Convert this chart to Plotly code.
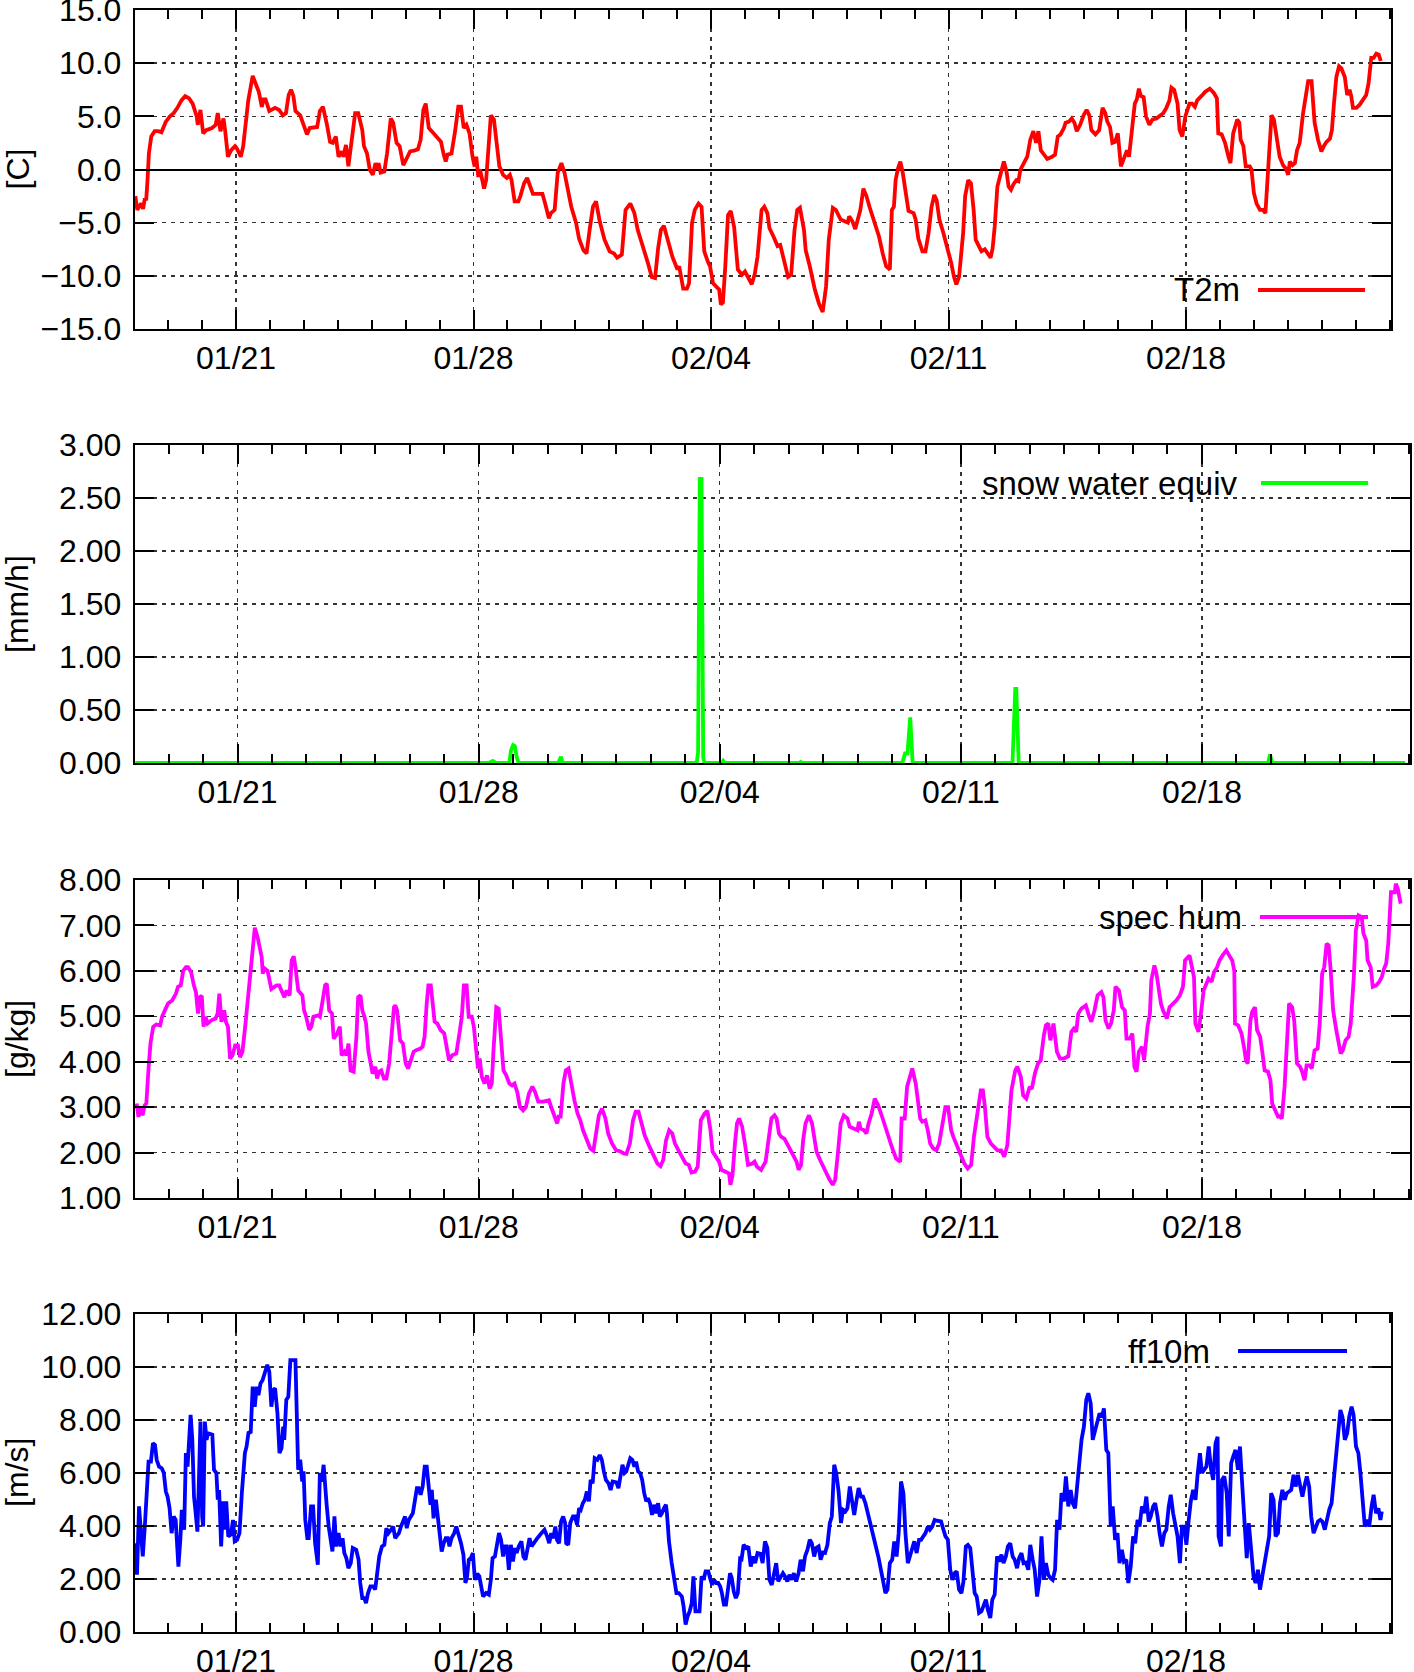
import pandas as pd
import plotly.graph_objects as go

# ---------------- data (days since 01/18 00:00, value) ----------------
T0 = pd.Timestamp("2024-01-18 00:00")

t2m_pts = [
(0.03,-2.5),(0.09,-3.8),(0.20,-3.2),(0.26,-3.7),(0.31,-2.7),(0.35,-2.9),(0.39,-1.0),(0.43,1.5),(0.50,3.1),(0.60,3.6),
(0.71,3.6),(0.80,3.5),(0.93,4.5),(1.05,5.0),(1.16,5.3),(1.27,5.8),(1.39,6.5),(1.50,6.9),(1.61,6.7),(1.72,6.2),
(1.84,5.0),(1.87,4.2),(1.95,5.6),(2.03,3.4),(2.12,3.7),(2.29,3.9),(2.40,4.2),(2.46,5.3),(2.54,3.6),(2.63,4.8),
(2.68,3.6),(2.76,1.2),(2.85,1.8),(2.97,2.2),(3.02,2.0),(3.14,1.2),(3.21,2.2),(3.36,6.5),(3.49,8.8),(3.59,8.0),
(3.67,7.3),(3.76,5.9),(3.81,6.6),(3.87,6.6),(3.98,5.5),(4.15,5.8),(4.27,5.6),(4.38,5.1),(4.47,5.3),(4.55,7.0),
(4.62,7.5),(4.69,6.9),(4.75,5.5),(4.89,5.1),(5.00,4.0),(5.09,3.3),(5.17,3.9),(5.39,4.0),(5.47,5.5),(5.56,5.9),
(5.68,4.2),(5.77,2.6),(5.85,2.5),(5.94,3.1),(6.02,1.2),(6.11,1.7),(6.16,1.2),(6.24,2.3),(6.31,0.3),(6.41,2.8),
(6.51,5.3),(6.60,5.3),(6.72,3.7),(6.77,2.2),(6.86,1.5),(6.94,0.0),(7.03,-0.5),(7.11,0.6),(7.17,0.0),(7.20,0.6),
(7.26,-0.3),(7.37,-0.2),(7.45,1.5),(7.56,4.8),(7.63,4.4),(7.73,2.5),(7.82,2.2),(7.93,0.4),(8.05,1.2),(8.13,1.7),
(8.27,1.8),(8.36,1.9),(8.44,2.8),(8.52,5.6),(8.59,6.2),(8.68,3.9),(8.82,3.4),(8.95,2.9),(9.04,2.6),(9.12,1.4),
(9.18,0.75),(9.23,1.4),(9.35,1.5),(9.46,3.7),(9.55,5.9),(9.63,5.9),(9.71,3.9),(9.79,4.2),(9.88,3.4),(9.97,1.2),
(10.03,0.3),(10.08,1.2),(10.14,-0.7),(10.19,0.0),(10.25,-0.8),(10.31,-1.8),(10.37,-1.0),(10.44,2.5),(10.51,5.1),(10.60,4.7),
(10.68,2.2),(10.76,0.3),(10.87,-0.5),(10.98,-0.8),(11.07,-0.5),(11.12,-1.0),(11.21,-3.0),(11.32,-3.0),(11.38,-2.5),(11.49,-1.3),
(11.58,-0.8),(11.66,-1.6),(11.75,-2.3),(11.89,-2.3),(12.03,-2.3),(12.11,-3.2),(12.22,-4.6),(12.28,-4.1),(12.39,-3.8),(12.48,-0.3),
(12.59,0.6),(12.68,-0.3),(12.79,-1.9),(12.88,-3.5),(13.02,-5.0),(13.11,-6.5),(13.24,-7.6),(13.33,-7.9),(13.42,-5.7),(13.52,-3.5),
(13.61,-3.0),(13.72,-4.9),(13.86,-6.6),(14.01,-7.7),(14.14,-7.9),(14.23,-8.3),(14.37,-8.0),(14.48,-3.8),(14.62,-3.2),(14.74,-4.1),
(14.84,-5.7),(14.99,-7.2),(15.14,-8.8),(15.25,-10.1),(15.35,-10.2),(15.44,-7.4),(15.52,-5.7),(15.61,-5.3),(15.73,-6.6),(15.86,-8.2),
(16.01,-9.4),(16.06,-9.1),(16.18,-11.2),(16.29,-11.2),(16.35,-10.7),(16.44,-5.0),(16.52,-3.8),(16.63,-3.2),(16.72,-3.5),(16.80,-7.7),
(16.91,-8.7),(16.97,-9.1),(17.06,-10.7),(17.19,-11.2),(17.24,-11.3),(17.29,-12.7),(17.35,-12.5),(17.42,-9.1),(17.50,-4.3),(17.58,-3.9),
(17.68,-5.4),(17.79,-9.4),(17.91,-9.9),(18.00,-9.6),(18.08,-10.1),(18.20,-10.8),(18.29,-9.8),(18.37,-8.2),(18.49,-3.8),(18.57,-3.5),
(18.66,-4.1),(18.72,-5.5),(18.84,-6.3),(18.96,-7.2),(19.04,-7.1),(19.13,-8.2),(19.27,-10.1),(19.36,-9.9),(19.46,-5.7),(19.54,-3.8),
(19.62,-3.6),(19.74,-5.7),(19.79,-7.6),(19.91,-9.1),(20.06,-11.3),(20.18,-12.6),(20.29,-13.4),(20.39,-11.0),(20.47,-6.6),(20.59,-3.6),
(20.68,-3.8),(20.82,-4.7),(20.93,-4.9),(21.03,-5.0),(21.07,-4.4),(21.17,-4.9),(21.25,-5.6),(21.34,-4.4),(21.40,-3.8),(21.49,-1.8),
(21.58,-2.5),(21.67,-3.5),(21.81,-4.9),(21.95,-6.3),(22.06,-7.9),(22.16,-9.1),(22.27,-9.4),(22.33,-3.8),(22.39,-3.5),(22.44,-1.0),
(22.51,0.1),(22.58,0.75),(22.65,-0.3),(22.74,-2.2),(22.82,-3.9),(22.97,-4.1),(23.03,-4.7),(23.11,-6.5),(23.23,-7.7),(23.32,-7.7),
(23.41,-6.0),(23.50,-3.5),(23.58,-2.4),(23.65,-2.9),(23.73,-4.7),(23.85,-6.0),(23.96,-7.2),(24.08,-8.8),(24.16,-10.1),(24.23,-10.8),
(24.31,-10.1),(24.43,-6.0),(24.49,-2.5),(24.58,-1.0),(24.66,-1.3),(24.74,-3.8),(24.80,-6.6),(24.89,-7.2),(24.97,-7.7),(25.07,-7.5),
(25.15,-7.9),(25.24,-8.3),(25.30,-7.4),(25.36,-5.4),(25.44,-1.6),(25.53,-0.3),(25.63,0.75),(25.71,-0.2),(25.77,-1.6),(25.84,-1.9),
(25.91,-1.4),(26.00,-1.0),(26.06,-1.1),(26.12,0.0),(26.21,0.6),(26.32,1.2),(26.41,2.8),(26.50,3.6),(26.58,2.5),(26.65,3.6),
(26.72,1.8),(26.81,1.4),(26.91,1.0),(27.05,1.2),(27.14,1.4),(27.22,3.1),(27.30,3.3),(27.40,3.9),(27.45,4.4),(27.55,4.5),
(27.63,4.8),(27.71,4.4),(27.78,3.6),(27.88,4.2),(27.98,5.1),(28.07,5.6),(28.15,5.1),(28.21,3.7),(28.33,3.3),(28.44,3.7),
(28.54,5.8),(28.62,5.3),(28.68,4.5),(28.76,4.0),(28.83,2.5),(28.91,2.6),(28.99,3.4),(29.08,0.3),(29.17,1.1),(29.26,1.8),
(29.32,1.2),(29.41,4.0),(29.49,6.2),(29.55,6.6),(29.61,7.6),(29.67,6.9),(29.75,6.8),(29.82,5.0),(29.92,4.2),(30.01,4.7),
(30.13,4.8),(30.25,5.1),(30.33,5.3),(30.42,5.8),(30.51,6.5),(30.57,7.7),(30.65,7.5),(30.75,6.2),(30.81,3.7),(30.89,3.1),
(30.98,5.0),(31.10,6.2),(31.18,6.2),(31.26,5.9),(31.33,6.5),(31.45,6.9),(31.56,7.3),(31.70,7.6),(31.82,7.2),(31.91,6.7),
(31.95,3.4),(32.05,3.3),(32.15,2.5),(32.25,1.2),(32.31,0.6),(32.39,3.4),(32.51,4.7),(32.57,4.4),(32.61,2.8),(32.69,2.2),
(32.76,0.3),(32.88,0.3),(32.93,0.0),(33.00,-2.2),(33.08,-3.2),(33.18,-3.8),(33.27,-3.8),(33.34,-4.1),(33.42,0.3),(33.52,5.1),
(33.59,4.7),(33.69,2.5),(33.76,1.2),(33.86,0.4),(33.94,0.1),(34.01,-0.5),(34.06,0.75),(34.14,0.4),(34.21,0.6),(34.27,1.8),
(34.35,2.5),(34.45,5.3),(34.53,6.9),(34.60,8.3),(34.70,8.3),(34.75,6.6),(34.79,4.4),(34.89,2.8),(34.99,1.7),(35.06,2.2),
(35.14,2.6),(35.24,2.9),(35.30,3.7),(35.36,6.2),(35.43,8.7),(35.51,9.7),(35.58,9.5),(35.68,8.7),(35.75,7.0),(35.82,7.5),
(35.87,6.9),(35.92,5.8),(36.02,5.8),(36.12,6.1),(36.22,6.5),(36.31,7.0),(36.38,8.1),(36.46,10.5),(36.53,10.5),(36.61,10.9),
(36.68,10.8),(36.74,10.2),
]

snow_pts = [
(0.03,0.0),(10.30,0.0),(10.41,0.02),(10.51,0.0),(10.89,0.0),(10.94,0.12),(11.00,0.17),(11.05,0.16),(11.10,0.06),(11.16,0.0),
(12.31,0.0),(12.39,0.06),(12.44,0.0),(16.33,0.0),(16.37,0.10),(16.42,2.68),(16.47,2.68),(16.52,0.05),(16.56,0.0),(17.06,0.0),
(17.10,0.02),(17.14,0.0),(19.31,0.0),(19.35,0.01),(19.39,0.0),(22.30,0.0),(22.38,0.09),(22.45,0.09),(22.53,0.43),(22.60,0.0),
(25.50,0.0),(25.58,0.70),(25.61,0.70),(25.68,0.0),(32.92,0.0),(32.98,0.08),(33.03,0.0),(36.90,0.0),
]

hum_pts = [
(0.07,3.08),(0.12,2.79),(0.18,2.97),(0.24,2.82),(0.30,3.04),(0.35,3.08),(0.41,3.81),(0.47,4.40),(0.55,4.77),(0.64,4.82),
(0.75,4.80),(0.81,5.00),(0.89,5.13),(0.98,5.28),(1.10,5.35),(1.21,5.50),(1.27,5.65),(1.35,5.68),(1.42,6.00),(1.50,6.08),
(1.56,6.08),(1.65,5.97),(1.73,5.68),(1.79,5.53),(1.85,5.06),(1.90,5.42),(1.96,5.45),(2.01,4.77),(2.07,4.99),(2.13,4.84),
(2.24,4.91),(2.36,4.95),(2.42,5.06),(2.47,5.50),(2.53,4.88),(2.61,5.13),(2.66,4.88),(2.72,4.77),(2.78,4.07),(2.85,4.14),
(2.93,4.36),(3.01,4.36),(3.07,4.10),(3.14,4.22),(3.22,4.77),(3.33,5.65),(3.45,6.74),(3.50,6.95),(3.58,6.74),(3.64,6.56),
(3.70,6.30),(3.73,5.94),(3.79,6.05),(3.87,6.00),(3.98,5.60),(4.13,5.68),(4.21,5.68),(4.31,5.50),(4.36,5.42),(4.42,5.57),
(4.51,5.46),(4.57,6.23),(4.63,6.32),(4.68,6.08),(4.76,5.57),(4.88,5.46),(4.93,5.13),(4.99,4.99),(5.08,4.70),(5.14,4.77),
(5.20,4.99),(5.34,5.02),(5.39,4.99),(5.47,5.35),(5.54,5.68),(5.59,5.72),(5.66,5.13),(5.74,5.06),(5.79,4.51),(5.89,4.62),
(5.97,4.77),(6.02,4.14),(6.10,4.22),(6.16,4.14),(6.22,4.40),(6.28,3.81),(6.37,3.78),(6.45,4.55),(6.50,5.42),(6.57,5.46),
(6.62,5.13),(6.68,5.00),(6.73,4.84),(6.80,4.22),(6.86,4.00),(6.92,3.74),(7.00,3.89),(7.05,3.63),(7.11,3.78),(7.17,3.81),
(7.25,3.63),(7.32,3.63),(7.40,3.96),(7.46,4.55),(7.54,5.20),(7.58,5.24),(7.63,5.13),(7.72,4.47),(7.80,4.40),(7.88,3.96),
(7.95,3.85),(8.03,4.03),(8.11,4.22),(8.20,4.26),(8.31,4.29),(8.37,4.33),(8.43,4.55),(8.49,5.28),(8.54,5.68),(8.61,5.68),
(8.66,5.28),(8.72,4.88),(8.80,4.84),(8.89,4.70),(9.00,4.62),(9.06,4.40),(9.14,4.03),(9.23,4.14),(9.35,4.18),(9.44,4.62),
(9.51,4.99),(9.57,5.68),(9.65,5.68),(9.71,4.99),(9.80,4.99),(9.86,4.77),(9.94,4.10),(9.98,3.85),(10.03,4.07),(10.09,3.67),
(10.17,3.52),(10.24,3.70),(10.32,3.41),(10.38,3.52),(10.43,4.25),(10.51,5.20),(10.58,5.17),(10.66,4.40),(10.72,3.81),(10.80,3.70),
(10.89,3.52),(10.97,3.48),(11.04,3.52),(11.12,3.33),(11.20,3.00),(11.29,2.93),(11.37,3.00),(11.46,3.30),(11.56,3.45),(11.64,3.33),
(11.73,3.12),(11.87,3.12),(12.04,3.15),(12.12,2.97),(12.21,2.79),(12.28,2.64),(12.32,2.79),(12.38,2.79),(12.46,3.52),(12.53,3.81),
(12.61,3.85),(12.70,3.45),(12.78,3.15),(12.87,2.86),(12.95,2.71),(13.03,2.49),(13.12,2.31),(13.24,2.09),(13.33,2.04),(13.41,2.42),
(13.49,2.82),(13.58,2.97),(13.68,2.75),(13.76,2.42),(13.87,2.20),(13.99,2.05),(14.10,2.03),(14.21,1.98),(14.29,1.97),(14.39,2.20),
(14.48,2.71),(14.56,2.90),(14.64,2.90),(14.73,2.64),(14.82,2.38),(14.96,2.13),(15.07,1.95),(15.19,1.76),(15.28,1.70),(15.36,1.84),
(15.44,2.27),(15.53,2.49),(15.62,2.42),(15.70,2.20),(15.82,2.02),(15.93,1.87),(16.01,1.76),(16.10,1.73),(16.18,1.56),(16.28,1.58),
(16.36,1.69),(16.45,2.71),(16.56,2.86),(16.64,2.92),(16.73,2.49),(16.79,2.02),(16.90,1.91),(16.98,1.80),(17.05,1.62),(17.18,1.58),
(17.27,1.54),(17.31,1.29),(17.37,1.50),(17.44,2.20),(17.50,2.64),(17.56,2.75),(17.65,2.57),(17.73,2.20),(17.82,1.73),(17.95,1.76),
(18.01,1.80),(18.08,1.69),(18.20,1.62),(18.33,1.80),(18.42,2.27),(18.50,2.75),(18.59,2.82),(18.65,2.75),(18.72,2.42),(18.78,2.35),
(18.88,2.30),(18.97,2.16),(19.04,2.09),(19.17,1.87),(19.23,1.80),(19.29,1.62),(19.36,1.73),(19.42,2.27),(19.49,2.64),(19.59,2.82),
(19.68,2.64),(19.74,2.35),(19.81,2.02),(19.91,1.84),(20.00,1.69),(20.09,1.54),(20.19,1.40),(20.28,1.29),(20.35,1.40),(20.42,1.91),
(20.51,2.64),(20.60,2.82),(20.71,2.75),(20.77,2.57),(20.90,2.53),(21.00,2.49),(21.04,2.68),(21.09,2.53),(21.19,2.49),(21.26,2.42),
(21.32,2.64),(21.41,2.86),(21.50,3.19),(21.60,3.04),(21.73,2.75),(21.86,2.42),(22.01,2.09),(22.12,1.87),(22.21,1.80),(22.24,1.80),
(22.28,2.75),(22.37,2.75),(22.44,3.45),(22.53,3.74),(22.59,3.85),(22.69,3.52),(22.76,3.01),(22.82,2.75),(22.88,2.68),(22.97,2.71),
(23.04,2.49),(23.11,2.20),(23.20,2.09),(23.29,2.05),(23.37,2.20),(23.46,2.64),(23.55,3.00),(23.63,3.00),(23.72,2.49),(23.78,2.35),
(23.91,2.13),(24.01,1.95),(24.10,1.76),(24.20,1.65),(24.30,1.73),(24.38,2.35),(24.49,2.86),(24.58,3.37),(24.64,3.37),(24.70,3.00),
(24.77,2.35),(24.87,2.20),(24.96,2.13),(25.06,2.05),(25.17,2.05),(25.26,1.91),(25.35,2.16),(25.41,2.71),(25.47,3.37),(25.58,3.81),
(25.64,3.89),(25.74,3.67),(25.81,3.26),(25.90,3.19),(26.00,3.45),(26.06,3.40),(26.15,3.74),(26.24,3.96),(26.32,4.03),(26.41,4.58),
(26.47,4.80),(26.54,4.84),(26.60,4.47),(26.69,4.84),(26.79,4.22),(26.88,4.07),(26.99,4.07),(27.12,4.12),(27.21,4.66),(27.28,4.73),
(27.35,4.66),(27.41,5.06),(27.50,5.17),(27.56,5.20),(27.63,5.24),(27.73,4.99),(27.79,4.88),(27.88,5.13),(27.97,5.46),(28.08,5.53),
(28.14,5.42),(28.20,4.91),(28.29,4.73),(28.36,4.84),(28.44,5.13),(28.49,5.65),(28.59,5.57),(28.68,5.20),(28.76,5.13),(28.81,4.51),
(28.91,4.51),(28.98,4.62),(29.04,3.89),(29.10,3.78),(29.17,4.22),(29.26,4.33),(29.32,4.03),(29.42,4.77),(29.49,5.06),(29.53,5.79),
(29.62,6.12),(29.68,5.94),(29.74,5.65),(29.81,5.28),(29.87,5.13),(29.98,4.95),(30.06,5.20),(30.17,5.28),(30.26,5.35),(30.36,5.46),
(30.45,5.65),(30.51,6.23),(30.58,6.30),(30.64,6.34),(30.71,6.08),(30.77,5.86),(30.81,4.84),(30.90,4.66),(30.96,4.99),(31.05,5.57),
(31.11,5.68),(31.19,5.83),(31.28,5.76),(31.35,5.97),(31.44,6.08),(31.51,6.23),(31.60,6.34),(31.71,6.45),(31.79,6.34),(31.88,6.23),
(31.94,6.00),(31.96,4.84),(32.05,4.80),(32.15,4.62),(32.22,4.33),(32.28,4.03),(32.33,3.96),(32.41,4.91),(32.46,5.10),(32.54,5.20),
(32.60,4.70),(32.69,4.55),(32.76,4.18),(32.82,3.81),(32.92,3.78),(32.99,3.59),(33.04,3.08),(33.12,2.93),(33.21,2.79),(33.27,2.80),
(33.32,2.75),(33.40,3.45),(33.46,4.33),(33.53,5.28),(33.62,5.20),(33.68,4.91),(33.76,3.96),(33.85,3.89),(33.91,3.78),(33.98,3.59),
(34.04,3.92),(34.13,3.92),(34.19,3.85),(34.27,4.25),(34.36,4.29),(34.42,4.84),(34.49,5.94),(34.55,6.08),(34.62,6.60),(34.68,6.56),
(34.74,6.00),(34.81,5.13),(34.90,4.70),(34.98,4.36),(35.03,4.18),(35.09,4.25),(35.17,4.47),(35.26,4.55),(35.32,4.84),(35.41,5.86),
(35.47,6.89),(35.55,7.22),(35.64,7.18),(35.69,6.82),(35.77,6.67),(35.81,6.23),(35.90,6.08),(35.96,5.65),(36.06,5.68),(36.15,5.76),
(36.22,5.86),(36.29,6.05),(36.35,6.16),(36.41,6.60),(36.49,7.73),(36.60,7.73),(36.63,7.92),(36.69,7.80),(36.77,7.48),
]

ff_pts = [
(0.03,3.35),(0.08,2.16),(0.14,4.74),(0.19,3.73),(0.25,2.85),(0.31,3.98),(0.38,5.60),(0.42,6.43),(0.49,6.43),(0.55,7.12),
(0.61,7.06),(0.66,6.50),(0.73,6.24),(0.81,6.18),(0.87,6.00),(0.93,5.30),(0.98,5.11),(1.04,4.67),(1.10,3.73),(1.16,4.36),
(1.22,4.23),(1.30,2.47),(1.36,3.54),(1.40,4.61),(1.47,3.86),(1.52,6.75),(1.57,6.24),(1.66,8.19),(1.71,7.25),(1.76,5.11),
(1.80,4.61),(1.86,3.79),(1.90,5.49),(1.95,7.94),(2.00,4.36),(2.03,3.98),(2.08,7.94),(2.13,7.25),(2.17,7.50),(2.30,7.45),
(2.35,6.12),(2.42,6.00),(2.46,4.99),(2.50,5.36),(2.56,3.23),(2.62,4.93),(2.67,3.86),(2.71,4.93),(2.77,3.61),(2.85,3.68),
(2.91,4.23),(2.96,3.42),(3.03,3.48),(3.10,3.73),(3.17,5.24),(3.26,6.75),(3.31,7.00),(3.37,7.56),(3.43,7.50),(3.49,9.26),
(3.55,8.50),(3.61,9.26),(3.66,8.94),(3.72,9.38),(3.78,9.50),(3.84,9.76),(3.92,10.08),(3.98,9.82),(4.04,8.50),(4.10,9.13),
(4.15,9.20),(4.22,8.25),(4.28,6.75),(4.34,6.94),(4.39,7.75),(4.42,7.25),(4.48,8.76),(4.54,8.88),(4.60,10.26),(4.75,10.26),
(4.80,7.12),(4.83,6.12),(4.89,6.50),(4.95,5.68),(4.99,6.06),(5.04,4.23),(5.10,3.54),(5.14,3.54),(5.21,4.74),(5.27,4.74),
(5.33,3.35),(5.41,2.54),(5.47,6.00),(5.53,5.68),(5.58,6.31),(5.62,5.49),(5.67,4.80),(5.73,3.98),(5.79,3.48),(5.84,3.04),
(5.90,4.36),(5.95,3.23),(6.02,3.73),(6.08,3.23),(6.14,3.54),(6.19,2.98),(6.25,2.79),(6.31,2.41),(6.38,2.60),(6.44,3.17),
(6.54,3.10),(6.61,2.73),(6.66,1.85),(6.72,1.28),(6.78,1.28),(6.83,1.09),(6.89,1.47),(6.96,1.72),(7.04,1.72),(7.10,1.60),
(7.16,2.22),(7.22,2.85),(7.30,3.23),(7.37,3.29),(7.43,3.92),(7.49,3.73),(7.57,3.86),(7.63,3.98),(7.69,3.54),(7.80,3.73),
(7.86,3.98),(7.92,4.23),(7.98,4.36),(8.03,3.92),(8.09,4.23),(8.21,4.48),(8.27,4.99),(8.33,5.43),(8.38,5.43),(8.44,5.18),
(8.50,5.49),(8.56,6.24),(8.62,6.24),(8.68,5.36),(8.73,4.80),(8.77,5.36),(8.82,4.29),(8.89,4.99),(8.97,3.98),(9.00,3.48),
(9.06,3.04),(9.12,3.35),(9.18,3.54),(9.24,3.54),(9.29,3.23),(9.35,3.54),(9.43,3.73),(9.49,3.98),(9.55,3.73),(9.63,3.35),
(9.70,2.92),(9.76,1.85),(9.81,2.10),(9.86,2.73),(9.92,2.79),(9.98,2.98),(10.04,1.97),(10.11,2.20),(10.17,2.10),(10.23,1.60),
(10.28,1.34),(10.37,1.47),(10.45,1.41),(10.51,1.97),(10.56,2.79),(10.63,2.85),(10.69,3.23),(10.75,3.73),(10.81,3.48),(10.87,2.85),
(10.93,3.23),(10.98,3.23),(11.04,2.35),(11.10,3.29),(11.16,2.66),(11.22,3.17),(11.27,2.98),(11.33,3.23),(11.41,3.42),(11.47,2.85),
(11.53,2.73),(11.59,3.23),(11.65,3.54),(11.71,3.23),(11.80,3.42),(11.88,3.54),(12.00,3.73),(12.09,3.86),(12.17,3.61),(12.23,3.35),
(12.29,3.73),(12.35,3.54),(12.41,3.98),(12.46,3.48),(12.52,3.35),(12.58,4.17),(12.64,4.36),(12.70,4.11),(12.73,3.35),(12.79,3.29),
(12.85,4.11),(12.93,4.36),(12.99,4.36),(13.05,4.05),(13.11,4.67),(13.16,4.61),(13.22,4.86),(13.28,4.99),(13.34,5.30),(13.40,4.93),
(13.45,5.74),(13.51,5.61),(13.57,6.56),(13.65,6.50),(13.72,6.68),(13.78,6.50),(13.84,6.06),(13.90,5.74),(13.98,5.61),(14.04,5.36),
(14.10,5.68),(14.21,5.65),(14.27,5.43),(14.33,5.93),(14.39,6.31),(14.45,6.00),(14.50,6.06),(14.56,6.31),(14.62,6.56),(14.68,6.50),
(14.74,6.24),(14.79,6.43),(14.85,6.06),(14.91,6.00),(14.97,5.74),(15.03,5.24),(15.09,4.93),(15.14,5.05),(15.20,4.86),(15.26,4.42),
(15.32,4.80),(15.38,4.48),(15.44,4.86),(15.49,4.36),(15.55,4.48),(15.61,4.67),(15.67,4.80),(15.70,4.48),(15.76,3.42),(15.84,2.60),
(15.93,1.72),(15.98,1.47),(16.05,1.47),(16.14,1.34),(16.19,0.97),(16.25,0.28),(16.31,0.59),(16.37,0.78),(16.43,1.09),(16.48,2.10),
(16.54,0.78),(16.66,0.78),(16.72,2.10),(16.78,1.97),(16.84,2.29),(16.92,2.29),(16.97,2.04),(17.03,1.78),(17.09,1.97),(17.15,1.85),
(17.21,1.85),(17.27,1.72),(17.32,1.47),(17.38,1.03),(17.44,1.03),(17.50,1.60),(17.56,2.22),(17.61,2.04),(17.67,1.53),(17.73,1.28),
(17.79,1.47),(17.86,2.85),(17.89,2.66),(17.96,3.29),(18.04,3.17),(18.10,3.23),(18.17,2.47),(18.24,2.85),(18.30,2.60),(18.37,2.98),
(18.46,2.95),(18.52,2.60),(18.59,3.42),(18.66,3.17),(18.72,1.97),(18.79,1.78),(18.85,2.16),(18.92,2.60),(18.98,1.91),(19.05,2.10),
(19.12,2.22),(19.18,2.10),(19.25,1.91),(19.31,2.16),(19.38,1.97),(19.44,2.22),(19.51,1.91),(19.58,2.22),(19.64,2.73),(19.71,2.29),
(19.77,2.85),(19.84,3.10),(19.91,3.48),(19.97,3.35),(20.04,2.85),(20.10,3.17),(20.17,3.23),(20.23,2.73),(20.30,3.00),(20.36,2.98),
(20.43,3.29),(20.50,4.11),(20.56,4.36),(20.63,6.31),(20.69,6.00),(20.76,5.30),(20.83,4.11),(20.89,4.61),(20.96,4.55),(21.02,4.67),
(21.09,5.49),(21.15,4.99),(21.22,4.42),(21.29,4.99),(21.35,5.43),(21.42,5.11),(21.48,5.11),(21.55,4.86),(21.68,4.23),(21.81,3.48),
(21.94,2.79),(22.07,1.97),(22.14,1.47),(22.20,1.60),(22.27,2.60),(22.34,2.73),(22.40,3.42),(22.47,2.85),(22.53,3.73),(22.60,5.68),
(22.67,5.24),(22.73,3.73),(22.80,2.60),(22.86,2.85),(22.93,3.23),(22.99,3.42),(23.06,2.98),(23.13,3.48),(23.19,3.48),(23.26,3.61),
(23.32,3.73),(23.39,3.98),(23.45,3.86),(23.52,3.98),(23.59,4.23),(23.65,4.20),(23.78,4.17),(23.85,3.86),(23.91,3.61),(23.98,3.48),
(24.05,2.35),(24.11,1.97),(24.18,2.22),(24.24,2.29),(24.31,1.60),(24.38,1.47),(24.44,1.91),(24.51,3.23),(24.57,3.29),(24.64,3.17),
(24.70,2.22),(24.77,1.47),(24.83,1.34),(24.90,0.72),(24.97,0.78),(25.03,0.97),(25.10,1.22),(25.16,0.84),(25.23,0.53),(25.29,1.22),
(25.36,1.41),(25.43,2.85),(25.49,2.66),(25.56,2.92),(25.62,2.60),(25.69,2.85),(25.75,3.23),(25.82,3.35),(25.89,2.85),(25.95,2.73),
(26.02,2.41),(26.08,2.79),(26.15,2.98),(26.21,2.60),(26.28,2.62),(26.35,2.35),(26.41,3.29),(26.48,2.73),(26.54,2.35),(26.61,1.34),
(26.68,1.97),(26.74,3.61),(26.81,1.97),(26.87,2.60),(26.94,2.16),(27.00,2.04),(27.07,1.97),(27.14,2.35),(27.20,4.23),(27.27,3.86),
(27.33,5.24),(27.40,4.93),(27.46,5.87),(27.53,4.74),(27.60,5.36),(27.66,4.86),(27.73,4.67),(27.79,5.49),(27.86,6.62),(27.92,7.25),
(27.99,7.75),(28.06,8.76),(28.12,9.01),(28.19,8.63),(28.25,7.25),(28.32,7.56),(28.38,7.88),(28.45,8.25),(28.52,8.12),(28.58,8.44),
(28.65,6.87),(28.71,6.75),(28.78,3.98),(28.84,4.74),(28.91,3.48),(28.98,3.73),(29.04,2.60),(29.11,3.10),(29.17,2.66),(29.24,2.73),
(29.30,1.85),(29.37,2.47),(29.44,3.61),(29.50,3.35),(29.57,4.23),(29.63,3.98),(29.70,4.74),(29.76,4.48),(29.83,5.11),(29.90,4.17),
(29.96,4.36),(30.03,4.74),(30.09,4.86),(30.16,4.36),(30.22,3.73),(30.29,3.23),(30.36,3.73),(30.42,3.86),(30.49,4.74),(30.55,5.18),
(30.62,4.48),(30.68,3.98),(30.75,3.61),(30.82,2.60),(30.88,3.98),(30.95,3.98),(31.01,3.29),(31.08,4.23),(31.14,4.93),(31.21,5.36),
(31.28,4.99),(31.34,5.93),(31.41,6.75),(31.47,6.00),(31.54,6.12),(31.60,6.24),(31.67,7.00),(31.74,6.12),(31.80,5.74),(31.87,7.12),
(31.93,7.37),(31.96,3.61),(32.03,3.23),(32.06,5.74),(32.13,5.87),(32.20,5.24),(32.26,3.61),(32.33,6.37),(32.39,6.62),(32.46,6.87),
(32.53,6.12),(32.59,7.00),(32.66,5.49),(32.72,4.23),(32.79,2.79),(32.85,4.11),(32.92,2.98),(32.99,2.10),(33.05,1.85),(33.12,2.35),
(33.18,1.60),(33.25,2.10),(33.31,2.60),(33.38,3.23),(33.45,3.61),(33.51,5.24),(33.58,4.99),(33.64,3.61),(33.71,3.73),(33.77,4.86),
(33.84,5.36),(33.91,4.99),(33.97,5.24),(34.04,5.30),(34.10,5.36),(34.17,5.93),(34.23,5.49),(34.30,5.93),(34.37,5.43),(34.43,5.11),
(34.50,5.55),(34.56,5.87),(34.63,5.49),(34.69,4.36),(34.76,3.73),(34.83,3.98),(34.89,4.17),(34.96,4.23),(35.02,4.17),(35.09,3.86),
(35.15,4.23),(35.22,4.61),(35.29,4.86),(35.35,5.61),(35.42,6.50),(35.48,7.50),(35.55,8.38),(35.61,8.12),(35.68,7.25),(35.75,7.50),
(35.81,8.12),(35.88,8.50),(35.94,8.19),(36.01,7.00),(36.08,6.75),(36.14,6.00),(36.21,4.99),(36.27,3.98),(36.34,4.23),(36.40,3.98),
(36.47,4.74),(36.53,5.18),(36.60,4.48),(36.67,4.67),(36.73,4.23),(36.77,4.55),
]

series_names = ["T2m", "snow water equiv", "spec hum", "ff10m"]
unit_labels = ["[C]", "[mm/h]", "[g/kg]", "[m/s]"]
y_ranges = [(-15, 15), (0, 3), (1, 8), (0, 12)]
y_dticks = [5, 0.5, 1, 2]
y_formats = [".1f", ".2f", ".2f", ".2f"]
colors = ["#ff0000", "#00ff00", "#ff00ff", "#0000ff"]

# ---------------- layout geometry (pixels) ----------------
W, H = 1414, 1672
ML, MR, MT, MB = 135, 4, 10, 40
PW, PH = W - ML - MR, H - MT - MB

def px_x(px):
    return (px - ML) / PW

def px_y(py):
    return (H - MB - py) / PH

panel_px = [(10, 329, 1391), (445, 763, 1410), (880, 1198, 1410), (1314, 1632, 1391)]

X0 = "2024-01-18 00:30"
X1 = "2024-02-24 01:00"
FONT = "Liberation Sans, Arial, Helvetica, sans-serif"
TICK_SIZE = 32
LEG_SIZE = 33

def times(pts):
    return [T0 + pd.Timedelta(days=d) for d, _ in pts]

def vals(pts):
    return [v for _, v in pts]

all_pts = [t2m_pts, snow_pts, hum_pts, ff_pts]

fig = go.Figure()
layout = dict(
    width=W, height=H, margin=dict(l=ML, r=MR, t=MT, b=MB, pad=0, autoexpand=False),
    paper_bgcolor="white", plot_bgcolor="white", showlegend=False,
    font=dict(family=FONT, size=TICK_SIZE, color="black"),
)

shapes = []
annotations = []

legend_geom = [
    # (text right px, line x0, line x1, y px, box x0, box x1, box y0, box y1)
    (1242, 1258, 1365, 290, 1151, 1391, 264, 308),
    (1239, 1261, 1368, 483, 890, 1410, 445, 500),
    (1244, 1260, 1368, 917, 1065, 1410, 880, 935),
    (1212, 1238, 1347, 1351, 1102, 1391, 1314, 1370),
]

for i, pts in enumerate(all_pts):
    k = "" if i == 0 else str(i + 1)
    top, bot, right = panel_px[i]
    fig.add_trace(go.Scatter(
        x=times(pts), y=vals(pts), mode="lines", name=series_names[i],
        line=dict(color=colors[i], width=3.8), xaxis="x" + k, yaxis="y" + k,
        hoverinfo="skip"))
    layout["xaxis" + k] = dict(
        domain=[0, px_x(right)], anchor="y" + k, type="date", range=[X0, X1],
        automargin=False, ticklabeloverflow="allow",
        tickformat="%m/%d", tick0="2024-01-21", dtick=7 * 86400000,
        ticks="inside", ticklen=19, tickwidth=2, tickcolor="black",
        showline=True, linecolor="black", linewidth=2.2, mirror="ticks",
        showgrid=True, gridcolor="#333333", gridwidth=1.4, griddash="4px,5px",
        zeroline=False, ticklabelstandoff=-1,
        minor=dict(dtick=86400000, tick0="2024-01-21", ticks="inside", ticklen=9,
                   tickwidth=2, tickcolor="black", showgrid=False),
        tickfont=dict(family=FONT, size=TICK_SIZE, color="black"),
    )
    layout["yaxis" + k] = dict(
        domain=[px_y(bot), px_y(top)], anchor="x" + k, range=list(y_ranges[i]),
        automargin=False, ticklabeloverflow="allow",
        tick0=y_ranges[i][0], dtick=y_dticks[i], tickformat=y_formats[i],
        ticks="inside", ticklen=19, tickwidth=2, tickcolor="black",
        showline=True, linecolor="black", linewidth=2.2, mirror="ticks",
        showgrid=True, gridcolor="#333333", gridwidth=1.4, griddash="4px,5px",
        zeroline=(i == 0), zerolinecolor="black", zerolinewidth=2,
        ticklabelstandoff=5,
        tickfont=dict(family=FONT, size=TICK_SIZE, color="black"),
    )
    # unit label
    annotations.append(dict(
        text=unit_labels[i], xref="paper", yref="paper", x=px_x(17),
        y=px_y((top + bot) / 2), xanchor="center", yanchor="middle",
        textangle=-90, showarrow=False, font=dict(family=FONT, size=TICK_SIZE, color="black")))
    # legend box + entry
    tr, lx0, lx1, ly, bx0, bx1, by0, by1 = legend_geom[i]
    shapes.append(dict(type="rect", xref="paper", yref="paper",
                       x0=px_x(bx0), x1=px_x(bx1), y0=px_y(by1), y1=px_y(by0),
                       fillcolor="white", line=dict(width=0), layer="between"))
    shapes.append(dict(type="line", xref="paper", yref="paper",
                       x0=px_x(lx0), x1=px_x(lx1), y0=px_y(ly), y1=px_y(ly),
                       line=dict(color=colors[i], width=4), layer="above"))
    annotations.append(dict(
        text=series_names[i], xref="paper", yref="paper", x=px_x(tr),
        y=px_y(ly), xanchor="right", yanchor="middle", showarrow=False,
        font=dict(family=FONT, size=LEG_SIZE, color="black")))

layout["shapes"] = shapes
layout["annotations"] = annotations
fig.update_layout(**layout)
fig.write_html(
    "out.html",
    config={"displayModeBar": False, "staticPlot": True},
    post_script=(
        "document.body.style.margin='0';document.body.style.padding='0';"
        "document.documentElement.style.overflow='hidden';"
        "var gd=document.getElementById('{plot_id}');"
        "gd.style.position='fixed';gd.style.top='0px';gd.style.left='0px';"
    ),
)
